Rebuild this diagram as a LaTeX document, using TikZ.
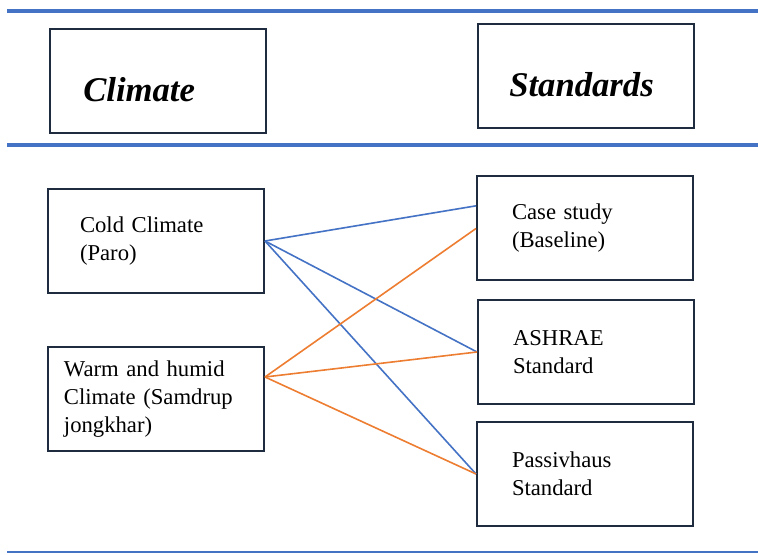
\documentclass[tikz,border=0pt]{standalone}
\usepackage{fontspec}
\setmainfont{Liberation Serif}
\usetikzlibrary{calc, positioning}
\definecolor{ruleblue}{HTML}{4472C4}
\definecolor{linkorange}{HTML}{ED7D31}
\definecolor{boxline}{HTML}{1F2B3E}
\tikzset{
    frame/.style={draw=boxline, line width=1.5pt, minimum width=162pt, minimum height=78pt,
        inner sep=0pt, align=left, font=\fontsize{17}{21}\selectfont},
    heading/.style={anchor=west, inner sep=0pt, font=\fontsize{26}{30}\selectfont\bfseries\itshape},
    rule/.style={draw=ruleblue, line width=2.6pt},
    coldlink/.style={draw=ruleblue, line width=1.2pt},
    warmlink/.style={draw=linkorange, line width=1.2pt}
}
\newcommand{\drawB}[5]{
    \node[frame, text width=#3] (#4) at (#1,#2) {#5};
}
\newcommand{\drawC}[3]{
    \draw[#1] (#2) -- (#3);
}

\begin{document}
\begin{tikzpicture}[x=0.75pt, y=-0.75pt]
        \useasboundingbox (0,0) rectangle (758,555);
        % Rules
        \coordinate (topl) at (7,11);    \coordinate (topr) at (758,11);
        \coordinate (midl) at (7,145);   \coordinate (midr) at (758,145);
        \coordinate (botl) at (7,552);   \coordinate (botr) at (758,552);
        \draw[rule] (topl) -- (topr);
        \draw[rule] (midl) -- (midr);
        \draw[rule, line width=1.4pt] (botl) -- (botr);
        % Headings
        \node[frame] (climate) at (158,81) {};
        \node[frame] (standards) at (585.5,76) {};
        \node[heading] (climatetxt) at (83,90) {Climate};
        \node[heading] (standardstxt) at (509,85) {Standards};
        % Climates
        \drawB{156}{241}{114pt}{cold}{Cold Climate\\(Paro)}
        \drawB{156}{399}{138pt}{warm}{Warm and humid\\Climate (Samdrup\\jongkhar)}
        % Standards
        \drawB{585}{228.5}{109.5pt}{case}{Case study\\(Baseline)}
        \drawB{586}{352}{109.5pt}{ashrae}{ASHRAE\\Standard}
        \drawB{585}{474}{109.5pt}{pass}{Passivhaus\\Standard}
        % Links
        \coordinate (caseup) at ([yshift=17pt]case.west);
        \coordinate (warmout) at ([yshift=16.5pt]warm.east);
        \drawC{coldlink}{cold.east}{caseup}
        \drawC{coldlink}{cold.east}{ashrae.west}
        \drawC{coldlink}{cold.east}{pass.west}
        \drawC{warmlink}{warmout}{case.west}
        \drawC{warmlink}{warmout}{ashrae.west}
        \drawC{warmlink}{warmout}{pass.west}

    \end{tikzpicture}
\end{document}
